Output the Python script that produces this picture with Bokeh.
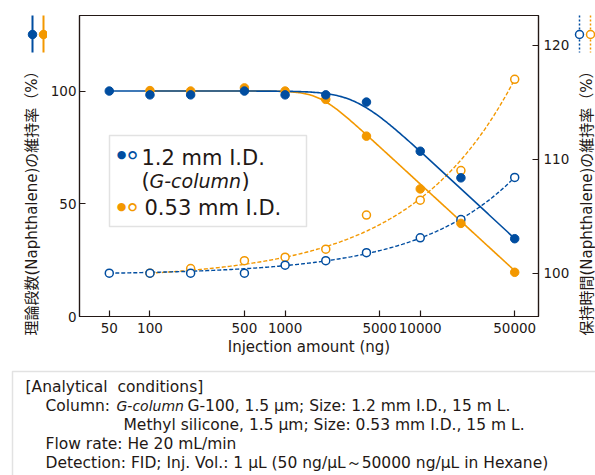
import numpy as np
from bokeh.plotting import figure
from bokeh.layouts import row, column
from bokeh.models import (Range1d, LinearAxis, FixedTicker, PrintfTickFormatter,
                          Label, BoxAnnotation)
from bokeh.embed import file_html
from bokeh.resources import INLINE

# ---------------- data ----------------
amount_12 = [50, 100, 200, 500, 1000, 2000, 4000, 10000, 20000, 50000]
plates_12 = [100.0, 98.3, 98.3, 100.0, 98.3, 98.3, 95.1, 73.3, 61.5, 34.5]
rtime_12 = [100.0, 100.0, 100.0, 100.0, 100.7, 101.1, 101.8, 103.1, 104.7, 108.4]

amount_053 = [100, 200, 500, 1000, 2000, 4000, 10000, 20000, 50000]
plates_053 = [100.2, 100.0, 101.4, 100.0, 96.3, 80.0, 56.6, 41.3, 19.6]
rtime_053 = [100.0, 100.4, 101.1, 101.4, 102.1, 105.1, 106.4, 109.0, 117.0]

# trend curves as drawn in the reference (parameters)
#   plate-number curve: 100 - slope*softplus(sharp*(log10 x - knee))/sharp
#   retention curve:    100 + amp*(exp(rate*(log10 x - log10 x_min)) - 1)
drop_12 = [55.5, 3.52, 8.0]      # slope per decade, knee (log10 ng), sharpness
drop_053 = [55.0, 3.25, 12.0]
rise_12 = [0.128, 1.4]           # amplitude, rate per decade
rise_053 = [0.525, 1.3]

x_ticks = [50, 100, 500, 1000, 5000, 10000, 50000]
left_ticks = [0, 50, 100]
right_ticks = [100, 110, 120]

label_12 = "1.2 mm I.D."
label_12b = "G-column"
label_053 = "0.53 mm I.D."
x_title = "Injection amount (ng)"
left_title = "理論段数(Naphthalene)の維持率（%）"
right_title = "保持時間(Naphthalene)の維持率（%）"

BLUE = "#004DA0"
ORANGE = "#F39800"
INK = "#231815"
GREY = "#9FA0A0"
FONT = "DejaVu Sans"
CJK = "DejaVu Sans, Noto Sans CJK JP"


def curve_x(x):
    return np.logspace(np.log10(min(x)), np.log10(max(x)), 300)


def drop_curve(x, prm):
    s, c, k = prm
    xx = curve_x(x)
    return xx, 100 - s * np.logaddexp(0, k * (np.log10(xx) - c)) / k


def rise_curve(x, prm):
    a, b = prm
    xx = curve_x(x)
    return xx, 100 + a * (np.exp(b * (np.log10(xx) - np.log10(min(x)))) - 1)


# ---------------- page geometry ----------------
W, H = 595, 475
TOP_H = 362           # height of the chart row
LEFT_W = 47           # strip left of the main figure
RIGHT_W = 23          # strip right of the main figure
FRAME_L, FRAME_R, FRAME_T, FRAME_B = 77, 539, 15, 316


def blank(width, height, x0, y0):
    f = figure(width=width, height=height, output_backend="svg", toolbar_location=None,
               x_range=Range1d(x0, x0 + width), y_range=Range1d(y0 + height, y0),
               x_axis_location=None, y_axis_location=None,
               min_border=0, outline_line_color=None)
    f.grid.visible = False
    f.background_fill_color = "white"
    f.border_fill_color = "white"
    f.frame_align = False
    return f


# ---------------- main figure ----------------
p = figure(width=W - LEFT_W - RIGHT_W, height=TOP_H, x_axis_type="log",
           x_range=Range1d(30.1, 75000), y_range=Range1d(0, 133.5),
           output_backend="svg", toolbar_location=None,
           min_border_left=FRAME_L - LEFT_W, min_border_right=W - RIGHT_W - FRAME_R,
           min_border_top=FRAME_T, min_border_bottom=TOP_H - FRAME_B)
p.frame_align = False
p.extra_y_ranges = {"rt": Range1d(96.2, 122.6)}
p.grid.visible = False
p.outline_line_color = INK
p.outline_line_width = 1.2
p.background_fill_color = "white"
p.border_fill_color = "white"


def style_axis(ax, ticks):
    ax.ticker = FixedTicker(ticks=ticks)
    ax.minor_tick_line_color = None
    ax.major_tick_in = 6
    ax.major_tick_out = 0
    ax.axis_line_color = INK
    ax.axis_line_width = 1.2
    ax.major_tick_line_color = INK
    ax.major_tick_line_width = 1.2
    ax.major_label_text_font = FONT
    ax.major_label_text_font_size = "13.5px"
    ax.major_label_text_color = INK


xa = p.xaxis[0]
style_axis(xa, x_ticks)
xa.formatter = PrintfTickFormatter(format="%d")
xa.major_label_standoff = 6
xa.axis_label = x_title
xa.axis_label_text_font = FONT
xa.axis_label_text_font_size = "15px"
xa.axis_label_text_font_style = "normal"
xa.axis_label_text_color = INK
xa.axis_label_standoff = 2

ya = p.yaxis[0]
style_axis(ya, left_ticks)
ya.major_label_standoff = 3

ra = LinearAxis(y_range_name="rt")
style_axis(ra, right_ticks)
ra.major_label_standoff = 5
p.add_layout(ra, "right")

# trend lines
p.line(*rise_curve(amount_053, rise_053), y_range_name="rt",
       line_color=ORANGE, line_width=1.4, line_dash="4 2")
p.line(*rise_curve(amount_12, rise_12), y_range_name="rt",
       line_color=BLUE, line_width=1.4, line_dash="4 2")
p.line(*drop_curve(amount_053, drop_053), line_color=ORANGE, line_width=1.6)
p.line(*drop_curve(amount_12, drop_12), line_color=BLUE, line_width=1.6)

# markers
p.scatter(amount_053, rtime_053, y_range_name="rt", size=8,
          fill_color="white", line_color=ORANGE, line_width=1.5)
p.scatter(amount_12, rtime_12, y_range_name="rt", size=8,
          fill_color="white", line_color=BLUE, line_width=1.5)
p.scatter(amount_053, plates_053, size=8.5, fill_color=ORANGE, line_color=ORANGE)
p.scatter(amount_12, plates_12, size=8.5, fill_color=BLUE, line_color=BLUE)


# legend (screen units relative to the frame's bottom-left corner)
def sx(X):
    return X - FRAME_L


def sy(Y):
    return FRAME_B - Y


def ptext(X, Y, t, size, color=INK, style="normal", align="left"):
    p.add_layout(Label(x=sx(X), y=sy(Y), x_units="screen", y_units="screen",
                       text=t, text_font=FONT, text_font_size=size,
                       text_font_style=style, text_color=color, text_align=align,
                       text_baseline="middle"))


p.add_layout(BoxAnnotation(left=sx(107), right=sx(304), top=sy(135), bottom=sy(226),
                           left_units="screen", right_units="screen",
                           top_units="screen", bottom_units="screen",
                           fill_color="white", fill_alpha=1.0,
                           line_color=GREY, line_width=1.5))
for Yc, col in ((154, BLUE), (206, ORANGE)):
    ptext(119, Yc, "●", "11px", color=col, align="center")
    ptext(130, Yc, "●", "11px", color=col, align="center")
    ptext(130, Yc, "●", "6.5px", color="white", align="center")
ptext(139, 157, label_12, "21px")
ptext(139, 180, "(", "21px")
ptext(147, 180, label_12b, "19px", style="italic")
ptext(239, 180, ")", "21px")
ptext(142, 207, label_053, "21px")

# ---------------- left strip: axis key + axis title ----------------
lf = blank(LEFT_W, TOP_H, 0, 0)
lf.segment(x0=[32, 43], y0=[15, 15], x1=[32, 43], y1=[52, 52],
           line_color=[BLUE, ORANGE], line_width=2)
lf.scatter([32, 43], [34, 34], size=8.5, fill_color=[BLUE, ORANGE],
           line_color=[BLUE, ORANGE])
lf.add_layout(Label(x=31, y=199, text=left_title, text_font=CJK, text_font_size="15px",
                    text_color=INK, text_align="center", text_baseline="middle",
                    angle=np.pi / 2))

# ---------------- right strip: axis key + axis title ----------------
X0R = W - RIGHT_W
rf = blank(RIGHT_W, TOP_H, X0R, 0)
rf.segment(x0=[579, 590], y0=[15, 15], x1=[579, 590], y1=[52, 52],
           line_color=[BLUE, ORANGE], line_width=1.5, line_dash="2 2")
rf.scatter([579, 590], [34, 34], size=8, fill_color="white",
           line_color=[BLUE, ORANGE], line_width=1.5)
rf.add_layout(Label(x=586, y=199, text=right_title, text_font=CJK, text_font_size="15px",
                    text_color=INK, text_align="center", text_baseline="middle",
                    angle=np.pi / 2))

# ---------------- analytical conditions box ----------------
cf = blank(W, H - TOP_H, 0, TOP_H)
cf.add_layout(BoxAnnotation(left=12, right=610, top=371, bottom=490,
                            fill_color="white", fill_alpha=1.0,
                            line_color=GREY, line_width=1.5))


def ctext(X, Y, t, size="15.5px", style="normal"):
    cf.add_layout(Label(x=X, y=Y, text=t, text_font=FONT, text_font_size=size,
                        text_font_style=style, text_color=INK, text_align="left",
                        text_baseline="middle"))


ctext(25, 386, "[Analytical\u00a0 conditions]")
ctext(45, 405, "Column:")
ctext(116, 405, "G-column", size="14px", style="italic")
ctext(187, 405, "G-100, 1.5 µm; Size: 1.2 mm I.D., 15 m L.")
ctext(123, 424, "Methyl silicone, 1.5 µm; Size: 0.53 mm I.D., 15 m L.")
ctext(45, 443, "Flow rate: He 20 mL/min")
ctext(45, 462, "Detection: FID; Inj. Vol.: 1 µL (50 ng/µL～50000 ng/µL in Hexane)")

page = column(row(lf, p, rf, spacing=0), cf, spacing=0)
open("out.html", "w").write(file_html(page, INLINE))
